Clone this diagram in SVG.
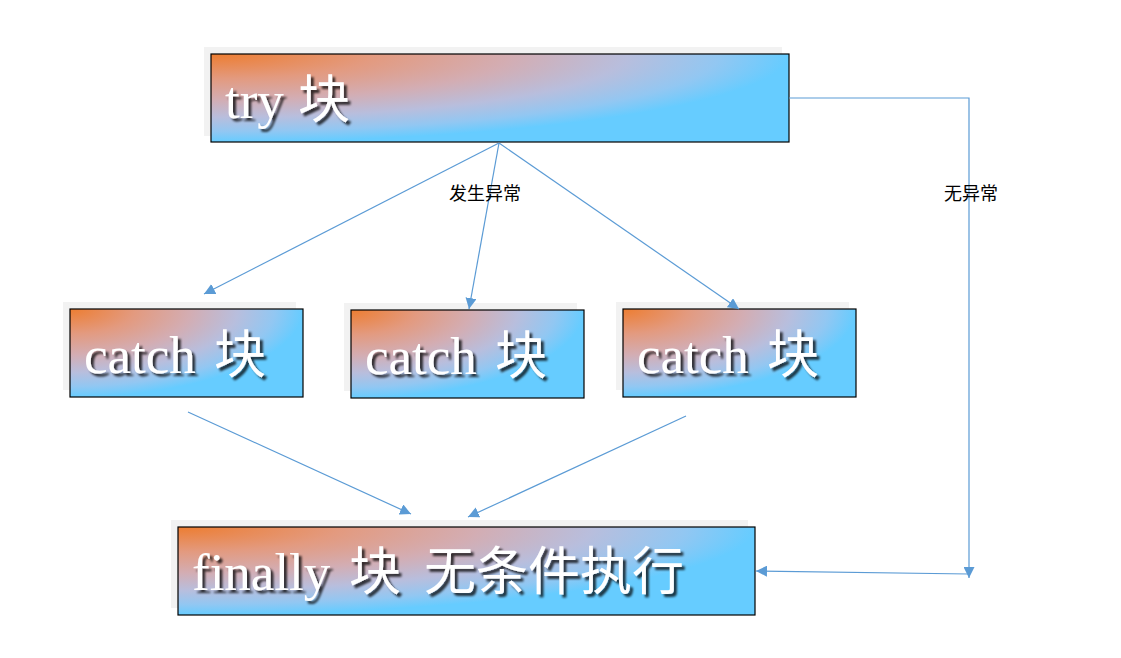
<svg xmlns="http://www.w3.org/2000/svg" width="1121" height="658" viewBox="0 0 1121 658">
<defs>
<radialGradient id="fillGrad" cx="0" cy="0" r="1" fx="0" fy="0" gradientUnits="objectBoundingBox">
<stop offset="0" stop-color="#ED7D31"/>
<stop offset="0.28" stop-color="#E39A7F"/>
<stop offset="0.52" stop-color="#D3ADB3"/>
<stop offset="0.72" stop-color="#B8BEDD"/>
<stop offset="0.88" stop-color="#92C7F2"/>
<stop offset="1" stop-color="#66CCFF"/>
</radialGradient>
<filter id="txtShadow" x="-10%" y="-20%" width="130%" height="150%">
<feDropShadow dx="3" dy="3" stdDeviation="1.3" flood-color="#000" flood-opacity="0.75"/>
</filter>
<marker id="arr" markerUnits="userSpaceOnUse" markerWidth="12" markerHeight="11" refX="11" refY="5.5" orient="auto">
<path d="M0,0 L11,5.5 L0,11 z" fill="#5B9BD5"/>
</marker>
</defs>
<style>
.shadow{fill:#F2F2F2;}
.box{fill:url(#fillGrad);stroke:#000;stroke-width:1.2;}
.big{font-family:"Liberation Serif","Noto Sans CJK SC",serif;font-size:53px;fill:#fff;filter:url(#txtShadow);}
.cjk{font-family:"Noto Sans CJK SC",sans-serif;font-size:52px;}
.conn{fill:none;stroke:#5B9BD5;stroke-width:1.2;}
.lbl{font-family:"Noto Sans CJK SC","Liberation Sans",sans-serif;font-size:18px;fill:#000;text-anchor:middle;}
</style>
<rect width="1121" height="658" fill="#fff"/>
<g id="try">
<rect class="shadow" x="204" y="47" width="578" height="89"/>
<rect class="box" x="211" y="54" width="578" height="88"/>
<text class="big" x="225" y="118">try <tspan class="cjk" x="298">块</tspan></text>
</g>
<g id="catch1">
<rect class="shadow" x="63" y="302" width="233" height="88"/>
<rect class="box" x="70" y="309" width="233" height="88"/>
<text class="big" x="84" y="373">catch <tspan class="cjk" x="214">块</tspan></text>
</g>
<g id="catch2">
<rect class="shadow" x="344" y="303" width="233" height="88"/>
<rect class="box" x="351" y="310" width="233" height="88"/>
<text class="big" x="365" y="374">catch <tspan class="cjk" x="495">块</tspan></text>
</g>
<g id="catch3">
<rect class="shadow" x="616" y="302" width="233" height="88"/>
<rect class="box" x="623" y="309" width="233" height="88"/>
<text class="big" x="637" y="373">catch <tspan class="cjk" x="767">块</tspan></text>
</g>
<g id="finally">
<rect class="shadow" x="171" y="520" width="577" height="88"/>
<rect class="box" x="178" y="527" width="577" height="88"/>
<text class="big" x="192" y="590">finally <tspan class="cjk" x="349">块</tspan> <tspan class="cjk" x="424">无条件执行</tspan></text>
</g>
<g id="connectors">
<line class="conn" x1="499" y1="143" x2="204" y2="294" marker-end="url(#arr)"/>
<line class="conn" x1="499" y1="143" x2="469" y2="309" marker-end="url(#arr)"/>
<line class="conn" x1="499" y1="143" x2="739" y2="309" marker-end="url(#arr)"/>
<polyline class="conn" points="789,98 969,98 969,578" marker-end="url(#arr)"/>
<line class="conn" x1="969" y1="574" x2="756" y2="571" marker-end="url(#arr)"/>
<line class="conn" x1="188" y1="412" x2="411" y2="514" marker-end="url(#arr)"/>
<line class="conn" x1="686" y1="416" x2="468" y2="517" marker-end="url(#arr)"/>
<text class="lbl" x="485" y="200">发生异常</text>
<text class="lbl" x="971" y="200">无异常</text>
</g>
</svg>
